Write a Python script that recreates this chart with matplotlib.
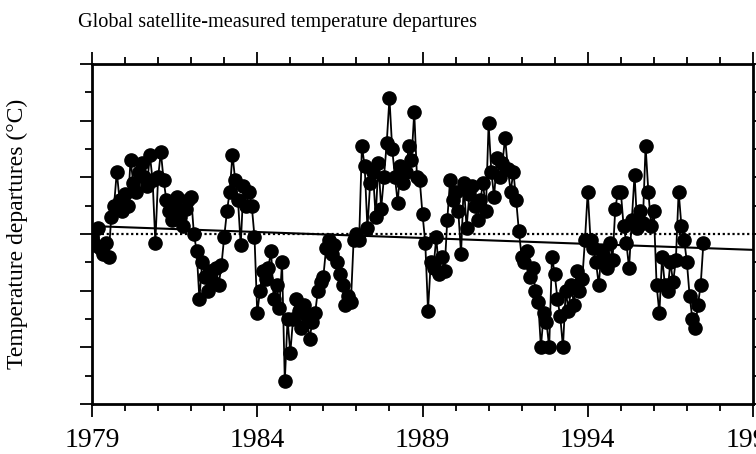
import numpy as np
import matplotlib.pyplot as plt
from matplotlib.ticker import MultipleLocator, NullFormatter

# monthly temperature departures (deg C), Jan 1979 onwards
vals_1979 = [-0.01, -0.04, 0.02, -0.05, -0.07, -0.03, -0.08, 0.06, 0.10, 0.22, 0.12, 0.08]
vals_1980 = [0.14, 0.10, 0.26, 0.18, 0.15, 0.22, 0.25, 0.20, 0.17, 0.28, 0.19, -0.03]
vals_1981 = [0.20, 0.29, 0.19, 0.12, 0.08, 0.05, 0.10, 0.13, 0.06, 0.03, 0.09, 0.12]
vals_1982 = [0.13, 0.00, -0.06, -0.23, -0.10, -0.15, -0.20, -0.13, -0.17, -0.12, -0.18, -0.11]
vals_1983 = [-0.01, 0.08, 0.15, 0.28, 0.19, 0.12, -0.04, 0.17, 0.10, 0.15, 0.10, -0.01]
vals_1984 = [-0.28, -0.20, -0.13, -0.16, -0.12, -0.06, -0.23, -0.18, -0.26, -0.10, -0.52, -0.30]
vals_1985 = [-0.42, -0.30, -0.23, -0.27, -0.33, -0.25, -0.29, -0.37, -0.31, -0.28, -0.20, -0.17]
vals_1986 = [-0.15, -0.05, -0.02, -0.07, -0.04, -0.10, -0.14, -0.18, -0.25, -0.22, -0.24, -0.02]
vals_1987 = [0.00, -0.02, 0.31, 0.24, 0.02, 0.18, 0.22, 0.06, 0.25, 0.09, 0.20, 0.32]
vals_1988 = [0.48, 0.30, 0.20, 0.11, 0.24, 0.18, 0.22, 0.31, 0.26, 0.43, 0.20, 0.19]
vals_1989 = [0.07, -0.03, -0.27, -0.10, -0.12, -0.01, -0.14, -0.08, -0.13, 0.05, 0.19, 0.12]
vals_1990 = [0.15, 0.08, -0.07, 0.18, 0.02, 0.14, 0.17, 0.10, 0.05, 0.12, 0.18, 0.08]
vals_1991 = [0.39, 0.22, 0.13, 0.27, 0.20, 0.25, 0.34, 0.23, 0.15, 0.22, 0.12, 0.01]
vals_1992 = [-0.08, -0.10, -0.06, -0.15, -0.12, -0.20, -0.24, -0.40, -0.28, -0.31, -0.40, -0.08]
vals_1993 = [-0.14, -0.23, -0.29, -0.40, -0.20, -0.27, -0.18, -0.25, -0.13, -0.20, -0.16, -0.02]
vals_1994 = [0.15, -0.02, -0.05, -0.10, -0.18, -0.06, -0.08, -0.12, -0.03, -0.09, 0.09, 0.15]
vals_1995 = [0.15, 0.03, -0.03, -0.12, 0.05, 0.21, 0.02, 0.08, 0.04, 0.31, 0.15, 0.03]
vals_1996 = [0.08, -0.18, -0.28, -0.08, -0.18, -0.20, -0.10, -0.17, -0.09, 0.15, 0.03, -0.02]
vals_1997 = [-0.10, -0.22, -0.30, -0.33, -0.25, -0.18, -0.03]

# linear trend end points
trend_years = [1979, 1999]
trend_vals = [0.028, -0.056]

xtick_years = [1979, 1984, 1989, 1994, 1999]

departures = np.array(
    vals_1979 + vals_1980 + vals_1981 + vals_1982 + vals_1983 + vals_1984
    + vals_1985 + vals_1986 + vals_1987 + vals_1988 + vals_1989 + vals_1990
    + vals_1991 + vals_1992 + vals_1993 + vals_1994 + vals_1995 + vals_1996
    + vals_1997
)
months = 1979 + np.arange(len(departures)) / 12

serif = ["Liberation Serif", "DejaVu Serif"]

fig = plt.figure(figsize=(7.56, 4.54), dpi=100)
ax = fig.add_axes([92 / 756, 1 - 404 / 454, (753 - 92) / 756, (404 - 64) / 454])

ax.axhline(0, color="black", lw=1.6, ls=(0, (1, 1.2)), zorder=1)
ax.plot(trend_years, trend_vals, color="black", lw=1.5, zorder=2)
ax.plot(months, departures, color="black", lw=1.3, marker="o", ms=9.5,
        mfc="black", mec="black", zorder=3)

ax.set_xlim(1979, 1999)
ax.set_ylim(-0.6, 0.6)

ax.xaxis.set_major_locator(plt.FixedLocator(xtick_years))
ax.xaxis.set_minor_locator(MultipleLocator(1))
ax.yaxis.set_major_locator(MultipleLocator(0.2))
ax.yaxis.set_minor_locator(MultipleLocator(0.1))
ax.yaxis.set_major_formatter(NullFormatter())
ax.set_xticklabels([str(y) for y in xtick_years], family=serif, fontsize=20)

ax.tick_params(which="both", direction="out", top=True, right=True, width=1.3,
               color="black")
ax.tick_params(which="major", length=9, pad=8)
ax.tick_params(which="minor", length=5)
for s in ax.spines.values():
    s.set_linewidth(2)

ax.set_ylabel("Temperature departures (°C)", family=serif, fontsize=17)
ax.yaxis.set_label_coords(-0.097, 0.5)
fig.text(78 / 756, 1 - 22 / 454, "Global satellite-measured temperature departures",
         family=serif, fontsize=14.6, va="center", ha="left")

fig.savefig("out.png", dpi=100)
